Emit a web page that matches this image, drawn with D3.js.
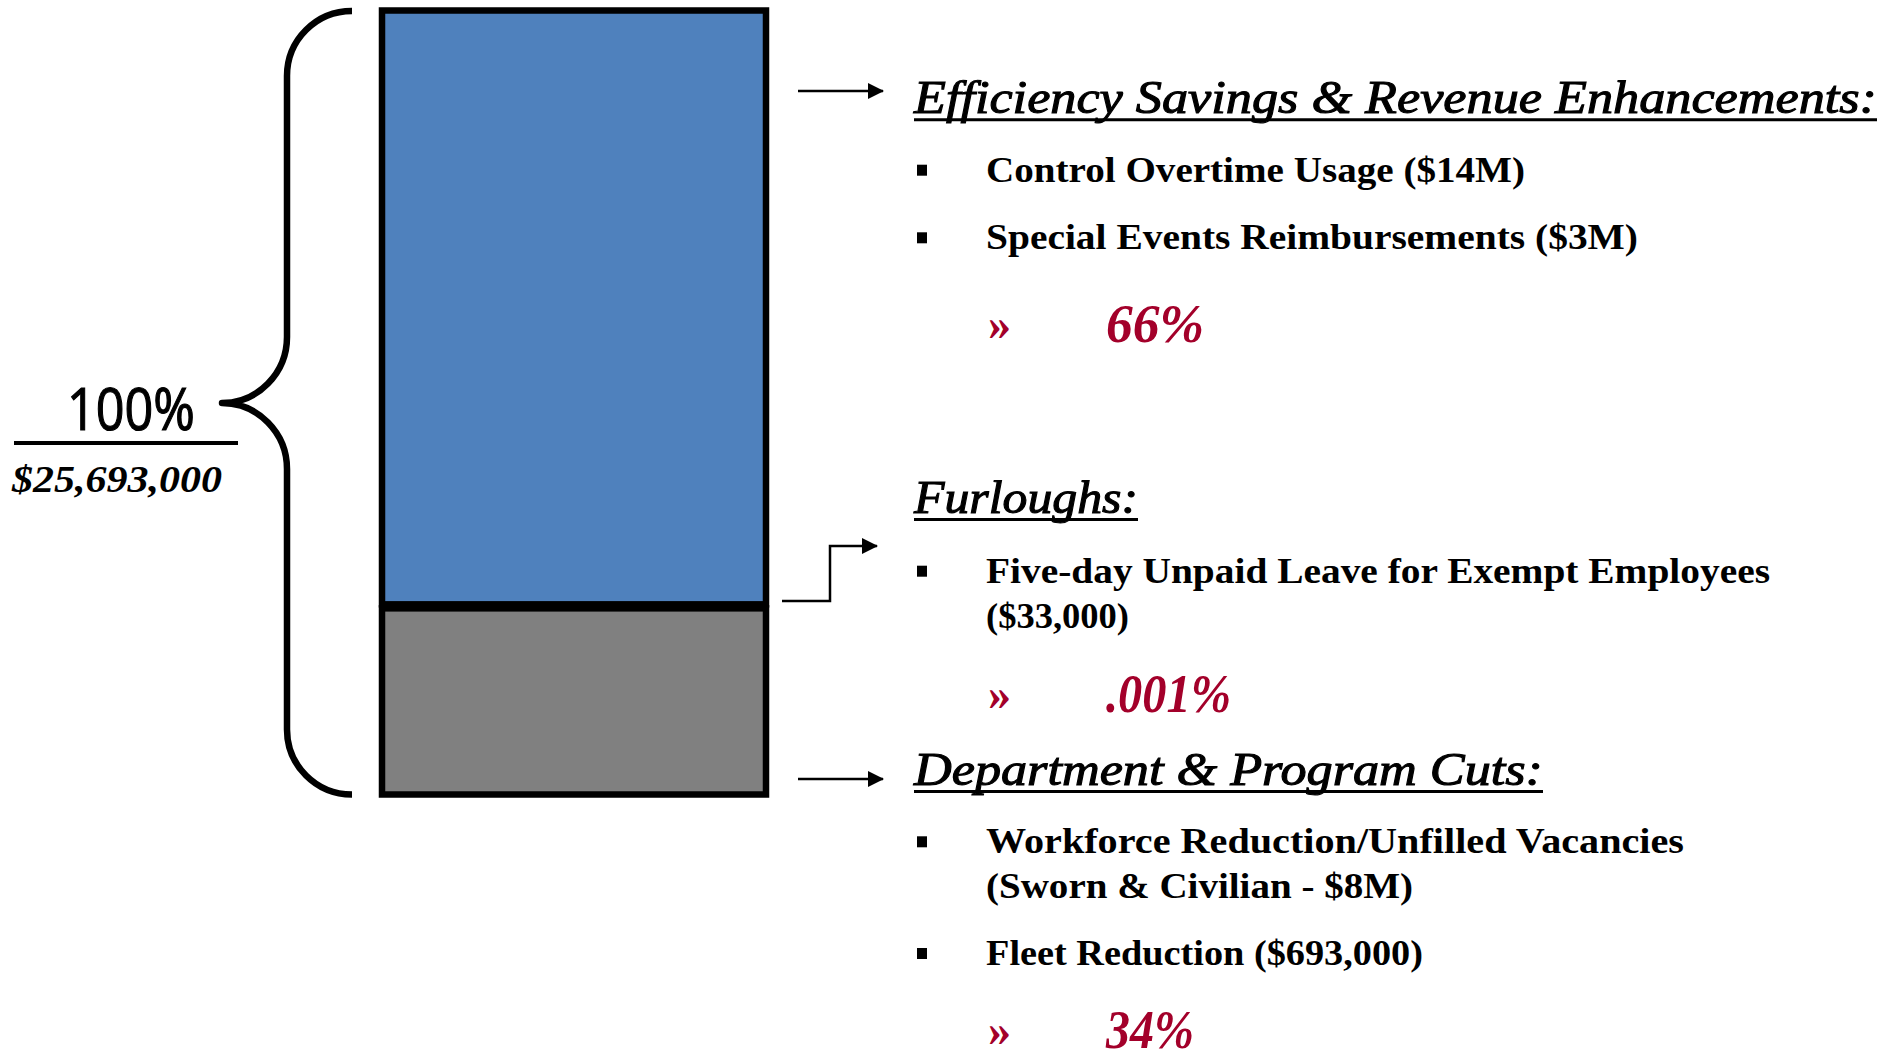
<!DOCTYPE html>
<html>
<head>
<meta charset="utf-8">
<script src="https://cdn.jsdelivr.net/npm/d3@7"></script>
<style>
  html, body { margin: 0; padding: 0; background: #fff; }
  svg { display: block; }
</style>
</head>
<body>
<div id="chart"></div>
<script>
// --- Data ---
const segments = ["Efficiency Savings & Revenue Enhancements", "Department & Program Cuts"];
const segmentShare = [76, 24];          // share of the bar as drawn in the original
const totalLabel = "100%";
const totalAmount = "$25,693,000";

const groupTitles = ["Efficiency Savings & Revenue Enhancements:", "Furloughs:", "Department & Program Cuts:"];
const groupItems = [
  [["Control Overtime Usage ($14M)"], ["Special Events Reimbursements ($3M)"]],
  [["Five-day Unpaid Leave for Exempt Employees", "($33,000)"]],
  [["Workforce Reduction/Unfilled Vacancies", "(Sworn & Civilian - $8M)"], ["Fleet Reduction ($693,000)"]]
];
const groupShares = ["66%", ".001%", "34%"];

// --- Layout ---
const width = 1885, height = 1054;
const barLeft = 382, barRight = 766, barTop = 10.5, barBottom = 794.5;
const segGap = 4;
const segColors = ["#4f81bd", "#808080"];
const red = "#a3002a";
const serif = "'Liberation Serif', 'Times New Roman', serif";

const titleX = 914, bulletX = 922, itemX = 986, shareX = 1106, chevX = 988;
// baselines per group
const titleY = [113.3, 513, 785];
const itemY = [[[181.7], [249.3]], [[582.7, 628]], [[853.3, 898.3], [965]]];
const shareY = [342, 711.7, 1048];
const titleW = [963, 224, 629];
const itemW = [[[539], [652]], [[784, 143]], [[698, 427], [437]]];
const shareW = [98, 125, 88];

const svg = d3.select("#chart").append("svg")
  .attr("width", width)
  .attr("height", height);

// --- Stacked bar ---
const y = d3.scaleLinear().domain([0, d3.sum(segmentShare)]).range([barBottom, barTop]);
const stack = [];
let acc = d3.sum(segmentShare);
segmentShare.forEach((v, i) => {
  stack.push({ name: segments[i], top: acc, bottom: acc - v, i });
  acc -= v;
});

svg.selectAll(".seg")
  .data(stack)
  .enter()
  .append("rect")
  .attr("class", "seg")
  .attr("x", barLeft)
  .attr("width", barRight - barLeft)
  .attr("y", d => y(d.top) + (d.i > 0 ? segGap / 2 : 0))
  .attr("height", d => y(d.bottom) - y(d.top) - (d.i > 0 ? segGap / 2 : 0) - (d.i < stack.length - 1 ? segGap / 2 : 0))
  .attr("fill", d => segColors[d.i])
  .attr("stroke", "#000")
  .attr("stroke-width", 6.5);

// --- Brace ---
const bTop = y(100) + 0.5, bBot = y(0), bMid = 403;
const bx = 287, bEnd = 352, bTip = 222, r = 65;
const brace = d3.path();
brace.moveTo(bEnd, bTop);
brace.bezierCurveTo(bEnd - 36, bTop, bx, bTop + r - 36, bx, bTop + r);
brace.lineTo(bx, bMid - 66);
brace.bezierCurveTo(bx, bMid - 30, bTip + 36, bMid, bTip, bMid);
brace.bezierCurveTo(bTip + 36, bMid, bx, bMid + 30, bx, bMid + 66);
brace.lineTo(bx, bBot - r);
brace.bezierCurveTo(bx, bBot - r + 36, bEnd - 36, bBot, bEnd, bBot);
svg.append("path")
  .attr("d", brace.toString())
  .attr("fill", "none")
  .attr("stroke", "#000")
  .attr("stroke-width", 6.5)
  .attr("stroke-linecap", "butt")
  .attr("stroke-linejoin", "round");

// --- Total label ---
svg.append("text")
  .attr("x", 67).attr("y", 430)
  .attr("font-family", "'Open Sans', 'Noto Sans', sans-serif")
  .attr("font-size", 58)
  .attr("textLength", 128)
  .attr("lengthAdjust", "spacingAndGlyphs")
  .attr("fill", "#000")
  .attr("stroke", "#000")
  .attr("stroke-width", 1.2)
  .text(totalLabel);

svg.append("line")
  .attr("x1", 14).attr("x2", 238)
  .attr("y1", 443).attr("y2", 443)
  .attr("stroke", "#000")
  .attr("stroke-width", 4);

svg.append("text")
  .attr("x", 12).attr("y", 491.7)
  .attr("font-family", serif)
  .attr("font-style", "italic")
  .attr("font-weight", "bold")
  .attr("font-size", 38)
  .attr("textLength", 210)
  .attr("lengthAdjust", "spacingAndGlyphs")
  .attr("fill", "#000")
  .text(totalAmount);

// --- Arrows ---
const defs = svg.append("defs");
defs.append("marker")
  .attr("id", "head")
  .attr("viewBox", "0 0 16 16")
  .attr("refX", 15).attr("refY", 8)
  .attr("markerWidth", 16).attr("markerHeight", 16)
  .attr("markerUnits", "userSpaceOnUse")
  .attr("orient", "auto")
  .append("path")
  .attr("d", "M0,0 L16,8 L0,16 Z")
  .attr("fill", "#000");

const arrowPaths = [
  `M798,91 H883`,
  `M782,601 H830 V546 H877`,
  `M798,779 H883`
];
svg.selectAll(".arrow")
  .data(arrowPaths)
  .enter()
  .append("path")
  .attr("class", "arrow")
  .attr("d", d => d)
  .attr("fill", "none")
  .attr("stroke", "#000")
  .attr("stroke-width", 2.5)
  .attr("marker-end", "url(#head)");

// --- Groups of text ---
groupTitles.forEach((title, g) => {
  svg.append("text")
    .attr("x", titleX).attr("y", titleY[g])
    .attr("font-family", serif)
    .attr("font-style", "italic")
    .attr("font-size", 47)
    .attr("textLength", titleW[g])
    .attr("lengthAdjust", "spacingAndGlyphs")
    .attr("fill", "#000")
    .attr("stroke", "#000")
    .attr("stroke-width", 1.1)
    .text(title);

  svg.append("line")
    .attr("x1", titleX).attr("x2", titleX + titleW[g])
    .attr("y1", titleY[g] + 6.5).attr("y2", titleY[g] + 6.5)
    .attr("stroke", "#000")
    .attr("stroke-width", 3);

  groupItems[g].forEach((lines, k) => {
    svg.append("rect")
      .attr("x", bulletX - 5).attr("y", itemY[g][k][0] - 17)
      .attr("width", 10).attr("height", 11)
      .attr("fill", "#000");
    lines.forEach((line, j) => {
      svg.append("text")
        .attr("x", itemX).attr("y", itemY[g][k][j])
        .attr("font-family", serif)
        .attr("font-weight", "bold")
        .attr("font-size", 36)
        .attr("textLength", itemW[g][k][j])
        .attr("lengthAdjust", "spacingAndGlyphs")
        .attr("fill", "#000")
        .text(line);
    });
  });

  svg.append("text")
    .attr("x", chevX).attr("y", shareY[g] - 2)
    .attr("font-family", serif)
    .attr("font-weight", "bold")
    .attr("font-size", 46)
    .attr("fill", red)
    .text("»");

  svg.append("text")
    .attr("x", shareX).attr("y", shareY[g])
    .attr("font-family", serif)
    .attr("font-style", "italic")
    .attr("font-weight", "bold")
    .attr("font-size", 54)
    .attr("textLength", shareW[g])
    .attr("lengthAdjust", "spacingAndGlyphs")
    .attr("fill", red)
    .text(groupShares[g]);
});
</script>
</body>
</html>
